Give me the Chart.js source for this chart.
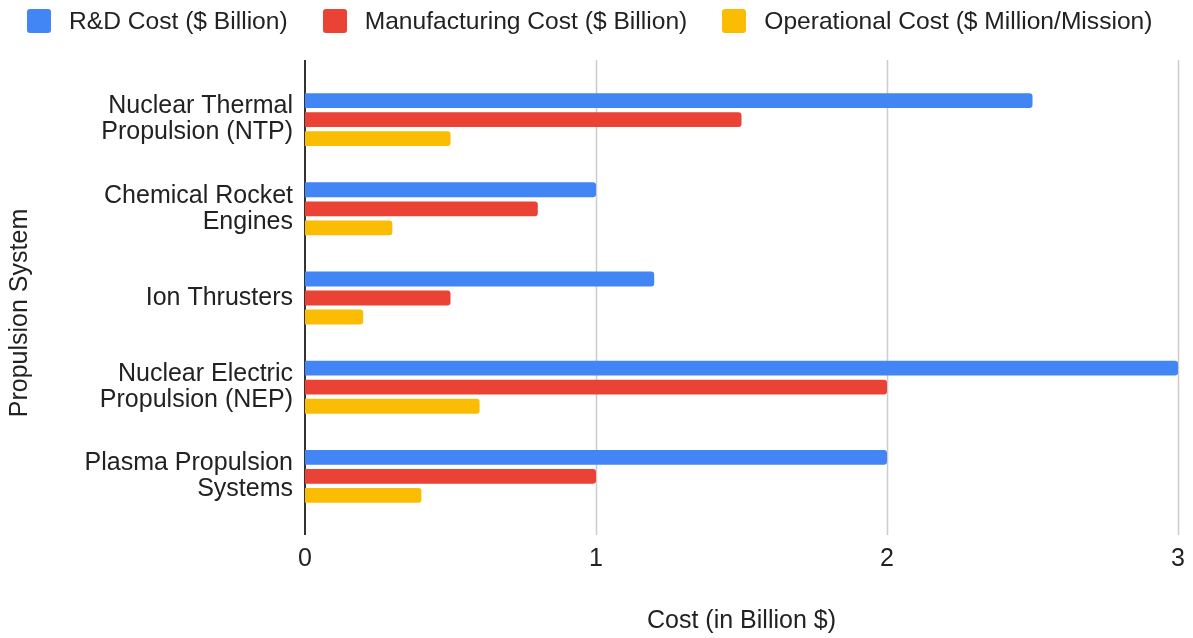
<!DOCTYPE html>
<html>
<head>
<meta charset="utf-8">
<script src="https://cdn.jsdelivr.net/npm/chart.js@4.4.1/dist/chart.umd.min.js"></script>
<style>
  html, body { margin: 0; padding: 0; background: #fff; }
  #wrap { width: 1193px; height: 638px; position: relative; }
  #legend {
    position: absolute; left: 27px; top: 9px;
    display: flex; align-items: center;
    font-family: 'Liberation Sans', Arial, sans-serif; font-size: 24.6px; color: #222;
  }
  .legend-item { display: flex; align-items: center; margin-right: 35px; height: 24px; }
  .legend-box { width: 24px; height: 24px; border-radius: 3px; margin-right: 18px; }
</style>
</head>
<body>
<div id="wrap">
  <div id="legend"></div>
  <canvas id="costChart"></canvas>
</div>
<script>
const categories = [
  ["Nuclear Thermal", "Propulsion (NTP)"],
  ["Chemical Rocket", "Engines"],
  "Ion Thrusters",
  ["Nuclear Electric", "Propulsion (NEP)"],
  ["Plasma Propulsion", "Systems"],
];
const seriesNames = [
  "R&D Cost ($ Billion)",
  "Manufacturing Cost ($ Billion)",
  "Operational Cost ($ Million/Mission)",
];
const seriesColors = ["#4285f4", "#ea4335", "#fbbc04"];
const rdCost = [2.5, 1.0, 1.2, 3.0, 2.0];
const manufacturingCost = [1.5, 0.8, 0.5, 2.0, 1.0];
const operationalCost = [0.5, 0.3, 0.2, 0.6, 0.4];
const xTicks = [0, 1, 2, 3];
const xTitle = "Cost (in Billion $)";
const yTitle = "Propulsion System";

const fontFamily = "'Liberation Sans', Arial, sans-serif";
const fontSize = 25;
Chart.defaults.font.family = fontFamily;
Chart.defaults.color = "#222";

// grid lines run past the category band, and the y title sits at the page middle
const gridPlugin = {
  id: "gridPlugin",
  beforeDatasetsDraw(chart) {
    const { ctx, chartArea, scales } = chart;
    ctx.save();
    xTicks.forEach((v) => {
      const x = Math.round(scales.x.getPixelForValue(v)) + (v === 0 ? 0 : 0.5);
      ctx.beginPath();
      ctx.strokeStyle = v === 0 ? "#333" : "#cccccc";
      ctx.lineWidth = v === 0 ? 2 : 1.5;
      ctx.moveTo(x, chartArea.top - 15);
      ctx.lineTo(x, chartArea.bottom + 14);
      ctx.stroke();
    });
    ctx.restore();
  },
  afterDraw(chart) {
    const { ctx } = chart;
    ctx.save();
    ctx.translate(20, 313);
    ctx.rotate(-Math.PI / 2);
    ctx.font = `${fontSize}px ${fontFamily}`;
    ctx.fillStyle = "#222";
    ctx.textAlign = "center";
    ctx.textBaseline = "middle";
    ctx.fillText(yTitle, 0, 0);
    ctx.restore();
  },
};

const barStyle = {
  borderRadius: 3,
  borderSkipped: "start",
  categoryPercentage: 0.64,
  barPercentage: 0.78,
};

const seriesData = [rdCost, manufacturingCost, operationalCost];

// legend as plain html so spacing can match the original
const legendEl = document.getElementById("legend");
legendEl.innerHTML = seriesNames
  .map((name, i) => `<div class="legend-item"><span class="legend-box" style="background:${seriesColors[i]}"></span><span></span></div>`)
  .join("");
legendEl.querySelectorAll(".legend-item span:last-child").forEach((el, i) => { el.textContent = seriesNames[i]; });

new Chart(document.getElementById("costChart"), {
  type: "bar",
  data: {
    labels: categories,
    datasets: seriesNames.map((name, i) => ({
      label: name,
      data: seriesData[i],
      backgroundColor: seriesColors[i],
      ...barStyle,
    })),
  },
  options: {
    indexAxis: "y",
    responsive: true,
    maintainAspectRatio: false,
    animation: false,
    layout: { padding: { left: 0, right: 15, top: 75, bottom: 2 } },
    plugins: {
      legend: { display: false },
      tooltip: { enabled: false },
    },
    scales: {
      x: {
        min: 0,
        max: 3,
        ticks: { stepSize: 1, padding: 23, font: { size: fontSize }, color: "#222" },
        grid: { display: false, drawTicks: false },
        border: { display: false },
        title: {
          display: true,
          text: xTitle,
          font: { size: fontSize },
          color: "#222",
          padding: { top: 0, bottom: 0 },
        },
        afterFit(scale) {
          scale.height = 115;
          scale.paddingLeft = 0;
          scale.paddingRight = 0;
        },
      },
      y: {
        ticks: { padding: 12, font: { size: fontSize, lineHeight: 1.04 }, color: "#222" },
        grid: { display: false, drawTicks: false },
        border: { display: false },
        afterFit(scale) { scale.width = 305; },
      },
    },
  },
  plugins: [gridPlugin],
});
</script>
</body>
</html>
